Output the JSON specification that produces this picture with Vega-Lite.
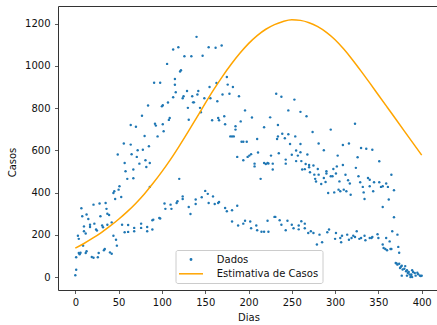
{
  "$schema": "https://vega.github.io/schema/vega-lite/v6.json",
  "width": 381,
  "height": 284,
  "autosize": {"type": "none"},
  "padding": {"left": 58, "top": 6, "right": 0, "bottom": 35},
  "background": "white",
  "config": {
    "font": "DejaVu Sans",
    "view": {"stroke": "#333333", "strokeWidth": 1},
    "axis": {
      "grid": false,
      "domain": false,
      "labelFont": "DejaVu Sans",
      "labelFontSize": 10,
      "labelColor": "#111111",
      "tickColor": "#333333",
      "tickSize": 3.5,
      "tickWidth": 0.8,
      "labelPadding": 3.5,
      "titleFont": "DejaVu Sans",
      "titleFontSize": 10,
      "titleFontWeight": "normal",
      "titleColor": "#111111"
    }
  },
  "datasets": {
    "pontos": [
      {"dia":0,"casos":9},{"dia":1,"casos":35},{"dia":1,"casos":94},{"dia":3,"casos":196},{"dia":4,"casos":114},{"dia":4,"casos":181},{"dia":5,"casos":108},{"dia":6,"casos":115},{"dia":7,"casos":326},{"dia":8,"casos":288},{"dia":9,"casos":149},{"dia":10,"casos":240},{"dia":10,"casos":217},{"dia":12,"casos":114},{"dia":12,"casos":206},{"dia":13,"casos":122},{"dia":13,"casos":296},{"dia":15,"casos":275},{"dia":17,"casos":237},{"dia":17,"casos":248},{"dia":19,"casos":95},{"dia":21,"casos":92},{"dia":21,"casos":343},{"dia":22,"casos":253},{"dia":24,"casos":225},{"dia":25,"casos":220},{"dia":26,"casos":94},{"dia":27,"casos":114},{"dia":28,"casos":348},{"dia":29,"casos":288},{"dia":31,"casos":244},{"dia":32,"casos":236},{"dia":33,"casos":127},{"dia":34,"casos":133},{"dia":35,"casos":351},{"dia":36,"casos":323},{"dia":37,"casos":300},{"dia":37,"casos":248},{"dia":39,"casos":294},{"dia":40,"casos":117},{"dia":42,"casos":111},{"dia":42,"casos":259},{"dia":44,"casos":196},{"dia":44,"casos":398},{"dia":45,"casos":406},{"dia":46,"casos":370},{"dia":47,"casos":177},{"dia":48,"casos":149},{"dia":49,"casos":580},
      {"dia":50,"casos":414},{"dia":51,"casos":430},{"dia":53,"casos":379},{"dia":56,"casos":632},{"dia":57,"casos":540},{"dia":58,"casos":501},{"dia":60,"casos":465},{"dia":64,"casos":627},{"dia":64,"casos":720},{"dia":65,"casos":581},{"dia":67,"casos":468},{"dia":67,"casos":509},{"dia":70,"casos":712},{"dia":71,"casos":569},{"dia":72,"casos":600},{"dia":74,"casos":537},{"dia":77,"casos":764},{"dia":78,"casos":603},{"dia":80,"casos":668},{"dia":81,"casos":553},{"dia":82,"casos":521},{"dia":84,"casos":812},{"dia":85,"casos":619},{"dia":86,"casos":540},{"dia":86,"casos":427},{"dia":91,"casos":920},{"dia":92,"casos":726},{"dia":93,"casos":717},{"dia":95,"casos":666},{"dia":98,"casos":920},{"dia":100,"casos":808},{"dia":101,"casos":813},{"dia":101,"casos":723},{"dia":102,"casos":690},{"dia":106,"casos":1009},{"dia":107,"casos":826},{"dia":108,"casos":744},{"dia":109,"casos":753},{"dia":113,"casos":1077},{"dia":113,"casos":851},{"dia":115,"casos":938},{"dia":115,"casos":910},{"dia":116,"casos":875},{"dia":119,"casos":1088},{"dia":121,"casos":973},{"dia":122,"casos":979},{"dia":124,"casos":846},{"dia":126,"casos":1045},{"dia":125,"casos":856},
      {"dia":54,"casos":248},{"dia":57,"casos":212},{"dia":61,"casos":247},{"dia":61,"casos":214},{"dia":68,"casos":233},{"dia":68,"casos":217},{"dia":76,"casos":253},{"dia":76,"casos":233},{"dia":83,"casos":237},{"dia":83,"casos":217},{"dia":89,"casos":225},{"dia":89,"casos":269},{"dia":90,"casos":272},{"dia":97,"casos":280},{"dia":98,"casos":277},{"dia":103,"casos":348},{"dia":104,"casos":323},{"dia":110,"casos":343},{"dia":111,"casos":323},{"dia":117,"casos":351},{"dia":118,"casos":359},{"dia":124,"casos":382},{"dia":120,"casos":465},
      {"dia":129,"casos":881},{"dia":130,"casos":801},{"dia":131,"casos":745},{"dia":134,"casos":1045},{"dia":135,"casos":856},{"dia":136,"casos":827},{"dia":137,"casos":827},{"dia":140,"casos":1137},{"dia":141,"casos":864},{"dia":142,"casos":881},{"dia":144,"casos":801},{"dia":145,"casos":780},{"dia":147,"casos":1048},{"dia":149,"casos":846},{"dia":154,"casos":1088},{"dia":155,"casos":900},{"dia":156,"casos":846},{"dia":158,"casos":742},{"dia":162,"casos":1085},{"dia":163,"casos":919},{"dia":164,"casos":832},{"dia":165,"casos":753},{"dia":166,"casos":742},{"dia":169,"casos":1096},{"dia":170,"casos":864},{"dia":172,"casos":761},{"dia":173,"casos":723},{"dia":175,"casos":947},{"dia":176,"casos":911},{"dia":178,"casos":868},
      {"dia":124,"casos":370},{"dia":131,"casos":332},{"dia":133,"casos":299},{"dia":139,"casos":367},{"dia":139,"casos":346},{"dia":146,"casos":378},{"dia":150,"casos":408},{"dia":153,"casos":394},{"dia":154,"casos":351},{"dia":159,"casos":382},{"dia":161,"casos":346},{"dia":165,"casos":351},{"dia":166,"casos":356},{"dia":173,"casos":327},{"dia":175,"casos":312},{"dia":181,"casos":316},{"dia":187,"casos":338},
      {"dia":182,"casos":900},{"dia":185,"casos":714},{"dia":185,"casos":698},{"dia":179,"casos":666},{"dia":181,"casos":666},{"dia":183,"casos":666},{"dia":187,"casos":569},{"dia":189,"casos":856},{"dia":191,"casos":737},{"dia":192,"casos":641},{"dia":194,"casos":641},{"dia":196,"casos":789},{"dia":198,"casos":641},{"dia":194,"casos":553},{"dia":199,"casos":569},{"dia":201,"casos":575},{"dia":203,"casos":582},{"dia":204,"casos":755},{"dia":207,"casos":524},{"dia":207,"casos":537},{"dia":210,"casos":654},{"dia":211,"casos":590},{"dia":214,"casos":465},{"dia":218,"casos":709},{"dia":218,"casos":540},{"dia":220,"casos":535},{"dia":222,"casos":540},{"dia":223,"casos":538},{"dia":225,"casos":756},{"dia":226,"casos":575},{"dia":228,"casos":537},{"dia":228,"casos":509},{"dia":232,"casos":868},{"dia":233,"casos":654},{"dia":234,"casos":720},{"dia":234,"casos":666},{"dia":235,"casos":586},{"dia":238,"casos":854},{"dia":239,"casos":678},{"dia":242,"casos":657},{"dia":243,"casos":556},{"dia":243,"casos":537},{"dia":246,"casos":789},{"dia":246,"casos":676},{"dia":248,"casos":630},{"dia":250,"casos":579},{"dia":253,"casos":840},{"dia":254,"casos":666},{"dia":255,"casos":599},{"dia":255,"casos":549},{"dia":257,"casos":575},{"dia":260,"casos":630},{"dia":260,"casos":591},{"dia":261,"casos":549},{"dia":260,"casos":782},{"dia":265,"casos":511},{"dia":266,"casos":535},{"dia":267,"casos":761},{"dia":268,"casos":580},{"dia":270,"casos":520},
      {"dia":181,"casos":263},{"dia":188,"casos":244},{"dia":194,"casos":253},{"dia":196,"casos":267},{"dia":202,"casos":263},{"dia":203,"casos":231},{"dia":209,"casos":244},{"dia":210,"casos":222},{"dia":215,"casos":215},{"dia":218,"casos":215},{"dia":223,"casos":215},{"dia":222,"casos":267},{"dia":230,"casos":285},{"dia":231,"casos":285},{"dia":236,"casos":269},{"dia":238,"casos":248},{"dia":243,"casos":222},{"dia":245,"casos":267},{"dia":250,"casos":248},{"dia":252,"casos":231},{"dia":258,"casos":244},{"dia":258,"casos":226},{"dia":261,"casos":264},{"dia":265,"casos":253},{"dia":265,"casos":231},
      {"dia":262,"casos":509},{"dia":270,"casos":531},{"dia":271,"casos":496},{"dia":274,"casos":687},{"dia":275,"casos":528},{"dia":276,"casos":485},{"dia":277,"casos":465},{"dia":278,"casos":452},{"dia":280,"casos":512},{"dia":281,"casos":485},{"dia":281,"casos":632},{"dia":284,"casos":441},{"dia":287,"casos":600},{"dia":287,"casos":469},{"dia":289,"casos":450},{"dia":290,"casos":501},{"dia":290,"casos":490},{"dia":292,"casos":398},{"dia":295,"casos":698},{"dia":295,"casos":477},{"dia":297,"casos":477},{"dia":298,"casos":512},{"dia":299,"casos":401},{"dia":301,"casos":490},{"dia":302,"casos":524},{"dia":303,"casos":575},{"dia":304,"casos":414},{"dia":305,"casos":453},{"dia":306,"casos":406},{"dia":309,"casos":531},{"dia":309,"casos":625},{"dia":310,"casos":414},{"dia":312,"casos":484},{"dia":313,"casos":406},{"dia":315,"casos":458},{"dia":316,"casos":632},{"dia":317,"casos":443},{"dia":318,"casos":390},{"dia":323,"casos":726},{"dia":324,"casos":517},{"dia":326,"casos":567},{"dia":327,"casos":477},{"dia":329,"casos":449},{"dia":330,"casos":611},{"dia":332,"casos":427},{"dia":333,"casos":401},{"dia":334,"casos":370},{"dia":336,"casos":607},{"dia":338,"casos":469},{"dia":340,"casos":461},{"dia":340,"casos":430},{"dia":343,"casos":603},{"dia":344,"casos":406},{"dia":345,"casos":449},{"dia":351,"casos":548},{"dia":351,"casos":449},{"dia":353,"casos":427},{"dia":355,"casos":430},{"dia":355,"casos":332},{"dia":359,"casos":443},{"dia":361,"casos":427},{"dia":362,"casos":367},{"dia":365,"casos":484},{"dia":368,"casos":411},{"dia":368,"casos":283},
      {"dia":269,"casos":209},{"dia":272,"casos":217},{"dia":275,"casos":209},{"dia":279,"casos":154},{"dia":282,"casos":201},{"dia":285,"casos":165},{"dia":291,"casos":212},{"dia":293,"casos":225},{"dia":300,"casos":181},{"dia":301,"casos":209},{"dia":306,"casos":185},{"dia":307,"casos":165},{"dia":308,"casos":196},{"dia":314,"casos":201},{"dia":316,"casos":177},{"dia":319,"casos":185},{"dia":321,"casos":196},{"dia":323,"casos":190},{"dia":325,"casos":217},{"dia":328,"casos":181},{"dia":330,"casos":185},{"dia":334,"casos":196},{"dia":335,"casos":174},{"dia":340,"casos":185},{"dia":342,"casos":185},{"dia":343,"casos":190},{"dia":349,"casos":203},{"dia":350,"casos":185},{"dia":355,"casos":154},{"dia":356,"casos":138},{"dia":358,"casos":133},{"dia":359,"casos":185},{"dia":360,"casos":127},{"dia":363,"casos":169},{"dia":364,"casos":133},{"dia":365,"casos":133},{"dia":366,"casos":217},{"dia":372,"casos":201},{"dia":373,"casos":143},{"dia":374,"casos":115},
      {"dia":370,"casos":67},{"dia":371,"casos":64},{"dia":372,"casos":59},{"dia":374,"casos":63},{"dia":375,"casos":43},{"dia":376,"casos":49},{"dia":377,"casos":7},{"dia":377,"casos":54},{"dia":378,"casos":36},{"dia":380,"casos":40},{"dia":381,"casos":52},{"dia":382,"casos":28},{"dia":383,"casos":7},{"dia":383,"casos":33},{"dia":384,"casos":19},{"dia":385,"casos":24},{"dia":386,"casos":12},{"dia":387,"casos":0},{"dia":388,"casos":12},{"dia":388,"casos":5},{"dia":389,"casos":0},{"dia":389,"casos":33},{"dia":390,"casos":24},{"dia":392,"casos":19},{"dia":393,"casos":7},{"dia":395,"casos":21},{"dia":396,"casos":14},{"dia":398,"casos":7},{"dia":399,"casos":5},{"dia":400,"casos":7}
    ],
    "curva": [
      {"dia":0,"casos":137},{"dia":10,"casos":159},{"dia":20,"casos":184},{"dia":30,"casos":211},{"dia":40,"casos":241},{"dia":50,"casos":274},{"dia":60,"casos":310},{"dia":70,"casos":350},{"dia":80,"casos":395},{"dia":90,"casos":445},{"dia":100,"casos":499},{"dia":110,"casos":557},{"dia":120,"casos":620},{"dia":130,"casos":686},{"dia":140,"casos":754},{"dia":150,"casos":822},{"dia":160,"casos":888},{"dia":170,"casos":950},{"dia":180,"casos":1007},{"dia":190,"casos":1059},{"dia":200,"casos":1105},{"dia":210,"casos":1143},{"dia":220,"casos":1173},{"dia":230,"casos":1195},{"dia":240,"casos":1210},{"dia":250,"casos":1218},{"dia":260,"casos":1215},{"dia":270,"casos":1204},{"dia":280,"casos":1185},{"dia":290,"casos":1158},{"dia":300,"casos":1123},{"dia":310,"casos":1079},{"dia":320,"casos":1029},{"dia":330,"casos":975},{"dia":340,"casos":919},{"dia":350,"casos":862},{"dia":360,"casos":805},{"dia":370,"casos":748},{"dia":380,"casos":691},{"dia":390,"casos":634},{"dia":400,"casos":577}
    ]
  },
  "encoding": {
    "x": {
      "field": "dia", "type": "quantitative",
      "scale": {"domain": [-20, 420], "nice": false, "zero": false},
      "axis": {"title": "Dias", "values": [0,50,100,150,200,250,300,350,400], "titlePadding": 5}
    },
    "y": {
      "field": "casos", "type": "quantitative",
      "scale": {"domain": [-61, 1283], "nice": false, "zero": false},
      "axis": {"title": "Casos", "format": "d", "values": [0,200,400,600,800,1000,1200], "titlePadding": 7, "labelPadding": 4.5, "titleY": 156}
    },
    "color": {
      "scale": {"domain": ["Dados", "Estimativa de Casos"], "range": ["#1f77b4", "#ffa500"]},
      "legend": {
        "orient": "none",
        "legendX": 117.5,
        "legendY": 244,
        "title": null,
        "padding": 3.5,
        "rowPadding": 3.3,
        "strokeColor": "#cccccc",
        "fillColor": "rgba(255,255,255,0.8)",
        "cornerRadius": 2,
        "labelFont": "DejaVu Sans",
        "labelFontSize": 10,
        "labelColor": "#111111",
        "labelOffset": 19.8,
        "symbolOffset": 6,
        "symbolSize": 100,
        "symbolStrokeWidth": 1.5,
        "encode": {
          "symbols": {
            "update": {
              "shape": {"signal": "datum.value === 'Dados' ? 'M-0.14,0A0.14,0.14,0,1,0,0.14,0A0.14,0.14,0,1,0,-0.14,0Z' : 'M-2.4,0H2.4'"},
              "fill": {"signal": "datum.value === 'Dados' ? '#1f77b4' : 'transparent'"},
              "stroke": {"signal": "datum.value === 'Dados' ? 'transparent' : '#ffa500'"}
            }
          }
        }
      }
    }
  },
  "layer": [
    {
      "data": {"name": "pontos"},
      "mark": {"type": "circle", "size": 6, "opacity": 1},
      "encoding": {"color": {"datum": "Dados"}}
    },
    {
      "data": {"name": "curva"},
      "mark": {"type": "line", "interpolate": "monotone", "strokeWidth": 1.5},
      "encoding": {"color": {"datum": "Estimativa de Casos"}}
    }
  ]
}
